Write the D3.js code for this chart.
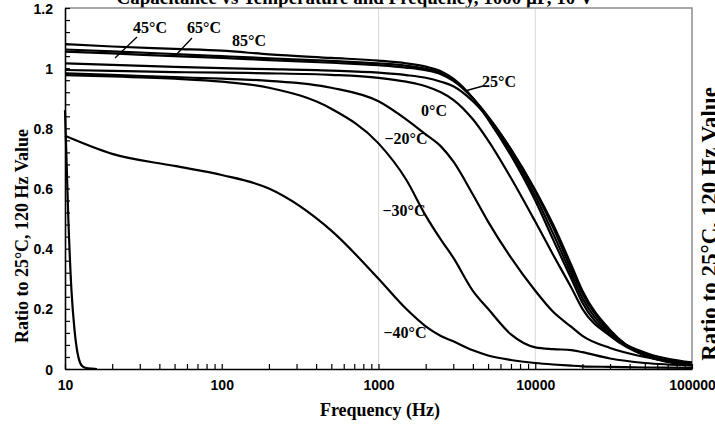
<!DOCTYPE html>
<html>
<head>
<meta charset="utf-8">
<script src="https://cdn.jsdelivr.net/npm/d3@7"></script>
<style>
  body { margin: 0; background: #fff; }
  svg { display: block; }
</style>
</head>
<body>
<svg id="chart" width="715" height="430"></svg>
<script>
// shared frequency grid (Hz) for the temperature curves
const freqs = [10, 20, 50, 100, 200, 500, 1000, 1500, 2000, 2500, 3000, 4000, 5000, 7000, 10000, 13000, 17000, 20000, 30000, 50000, 100000];

const ratio85 = [1.080, 1.072, 1.064, 1.058, 1.046, 1.034, 1.025, 1.016, 1.005, 0.990, 0.965, 0.900, 0.830, 0.710, 0.560, 0.430, 0.300, 0.220, 0.115, 0.055, 0.022];
const ratio65 = [1.062, 1.056, 1.047, 1.040, 1.033, 1.024, 1.016, 1.008, 0.998, 0.985, 0.962, 0.900, 0.835, 0.720, 0.575, 0.450, 0.315, 0.235, 0.120, 0.050, 0.018];
const ratio45 = [1.055, 1.049, 1.040, 1.034, 1.027, 1.018, 1.010, 1.002, 0.993, 0.980, 0.958, 0.900, 0.840, 0.730, 0.590, 0.470, 0.330, 0.250, 0.125, 0.048, 0.015];
const ratio25 = [1.016, 1.011, 1.004, 1.000, 0.997, 0.992, 0.985, 0.977, 0.968, 0.955, 0.940, 0.890, 0.835, 0.730, 0.595, 0.480, 0.345, 0.260, 0.130, 0.045, 0.012];
const ratio0 = [0.994, 0.991, 0.987, 0.985, 0.983, 0.978, 0.968, 0.955, 0.940, 0.920, 0.895, 0.830, 0.760, 0.635, 0.490, 0.380, 0.270, 0.200, 0.110, 0.045, 0.015];
const ratioM20 = [0.983, 0.978, 0.970, 0.965, 0.958, 0.935, 0.890, 0.830, 0.780, 0.740, 0.690, 0.580, 0.490, 0.370, 0.260, 0.190, 0.140, 0.110, 0.070, 0.040, 0.018];
const ratioM30 = [0.977, 0.973, 0.965, 0.955, 0.935, 0.865, 0.750, 0.630, 0.510, 0.430, 0.370, 0.260, 0.200, 0.115, 0.072, 0.066, 0.063, 0.056, 0.035, 0.020, 0.012];
const ratioM40 = [0.775, 0.715, 0.675, 0.645, 0.600, 0.460, 0.300, 0.200, 0.142, 0.110, 0.092, 0.062, 0.045, 0.030, 0.020, 0.015, 0.011, 0.009, 0.007, 0.005, 0.004];

// unlabeled curve that collapses right at 10 Hz
const freqsLow = [10, 10.5, 11, 11.5, 12, 12.5, 13, 14, 16];
const ratioLow = [0.86, 0.50, 0.26, 0.13, 0.055, 0.02, 0.008, 0.002, 0];

const yTicks = d3.range(0, 31).map(i => +(i * 0.04).toFixed(2));
const decades = [10, 100, 1000, 10000, 100000];
const gridFreqs = [1000, 10000];

const series = [
  { f: freqs, v: ratio85 }, { f: freqs, v: ratio65 }, { f: freqs, v: ratio45 },
  { f: freqs, v: ratio25 }, { f: freqs, v: ratio0 }, { f: freqs, v: ratioM20 },
  { f: freqs, v: ratioM30 }, { f: freqs, v: ratioM40 }, { f: freqsLow, v: ratioLow }
];

// curve labels: text, anchor point, optional leader line
const labels = [
  { t: '45°C', x: 150, y: 33, lead: [[137, 37], [115, 58]] },
  { t: '65°C', x: 204, y: 33, lead: [[192, 38], [175, 56]] },
  { t: '85°C', x: 249, y: 46 },
  { t: '25°C', x: 499, y: 87, lead: [[483, 86], [465, 91]] },
  { t: '0°C', x: 434, y: 116 },
  { t: '\u221220°C', x: 406, y: 144 },
  { t: '\u221230°C', x: 404, y: 216 },
  { t: '\u221240°C', x: 405, y: 338 }
];

const svg = d3.select('#chart');
const plotL = 65, plotR = 692, plotT = 8, plotB = 369;
const serif = '"Liberation Serif", "Times New Roman", serif';
const sans = '"Liberation Sans", Arial, sans-serif';

const x = d3.scaleLog().domain([10, 100000]).range([plotL, plotR]);
const y = d3.scaleLinear().domain([0, 1.2]).range([plotB, plotT]);

// title, cut off at the top edge
svg.append('text')
  .attr('x', 355).attr('y', 4)
  .attr('text-anchor', 'middle')
  .style('font-family', serif).style('font-weight', 'bold').style('font-size', '19px')
  .text('Capacitance vs Temperature and Frequency, 1000 µF, 10 V');

// vertical grid lines
svg.selectAll('.grid')
  .data(gridFreqs)
  .enter()
  .append('line')
  .attr('x1', d => x(d)).attr('x2', d => x(d))
  .attr('y1', plotT).attr('y2', plotB)
  .attr('stroke', '#d9d9d9').attr('stroke-width', 1);

// plot frame top/right
svg.append('path')
  .attr('d', `M${plotL},${plotT}H${plotR}V${plotB}`)
  .attr('fill', 'none').attr('stroke', '#8c8c8c').attr('stroke-width', 1.5);

// curves
const line = d3.line()
  .x(d => x(d[0]))
  .y(d => y(d[1]))
  .curve(d3.curveMonotoneX);

svg.selectAll('.curve')
  .data(series)
  .enter()
  .append('path')
  .attr('class', 'curve')
  .attr('d', s => line(s.f.map((f, i) => [f, s.v[i]])))
  .attr('fill', 'none')
  .attr('stroke', '#000')
  .attr('stroke-width', 2.2)
  .attr('stroke-linejoin', 'round');

// axes
const isMajorY = v => Math.abs(v / 0.2 - Math.round(v / 0.2)) < 1e-6;
const yAxis = d3.axisLeft(y)
  .tickValues(yTicks)
  .tickSizeInner(-5).tickSizeOuter(0).tickPadding(12)
  .tickFormat(v => isMajorY(v) ? d3.format('~g')(v) : '');

const xTicks = [];
decades.slice(0, -1).forEach(d => { for (let k = 1; k < 10; k++) xTicks.push(d * k); });
xTicks.push(100000);
const xAxis = d3.axisBottom(x)
  .tickValues(xTicks)
  .tickSizeInner(-5).tickSizeOuter(0).tickPadding(11)
  .tickFormat(v => decades.includes(v) ? String(v) : '');

const gy = svg.append('g').attr('transform', `translate(${plotL},0)`).call(yAxis);
const gx = svg.append('g').attr('transform', `translate(0,${plotB})`).call(xAxis);

[gx, gy].forEach(g => {
  g.select('.domain').attr('stroke', '#000').attr('stroke-width', 1.6);
  g.selectAll('.tick line').attr('stroke', '#000').attr('stroke-width', 1.2);
  g.selectAll('.tick text')
    .style('font-family', sans).style('font-weight', 'bold').style('font-size', '14px')
    .attr('fill', '#000');
});
gy.selectAll('.tick text').attr('dy', '0.36em');

// axis titles
svg.append('text')
  .attr('x', 380).attr('y', 416)
  .attr('text-anchor', 'middle')
  .style('font-family', serif).style('font-weight', 'bold').style('font-size', '18px')
  .text('Frequency (Hz)');

svg.append('text')
  .attr('transform', `translate(28,236) rotate(-90)`)
  .attr('text-anchor', 'middle')
  .style('font-family', serif).style('font-weight', 'bold').style('font-size', '18px')
  .text('Ratio to 25°C, 120 Hz Value');

// second copy of the axis title, cut by the right edge
svg.append('text')
  .attr('transform', `translate(717,224) rotate(-90)`)
  .attr('text-anchor', 'middle')
  .style('font-family', serif).style('font-weight', 'bold').style('font-size', '23px')
  .text('Ratio to 25°C, 120 Hz Value');

// curve labels
svg.selectAll('.lbl')
  .data(labels)
  .enter()
  .append('text')
  .attr('x', d => d.x).attr('y', d => d.y)
  .attr('text-anchor', 'middle')
  .style('font-family', serif).style('font-weight', 'bold').style('font-size', '16px')
  .text(d => d.t);

svg.selectAll('.lead')
  .data(labels.filter(d => d.lead))
  .enter()
  .append('line')
  .attr('x1', d => d.lead[0][0]).attr('y1', d => d.lead[0][1])
  .attr('x2', d => d.lead[1][0]).attr('y2', d => d.lead[1][1])
  .attr('stroke', '#000').attr('stroke-width', 1.3);
</script>
</body>
</html>
